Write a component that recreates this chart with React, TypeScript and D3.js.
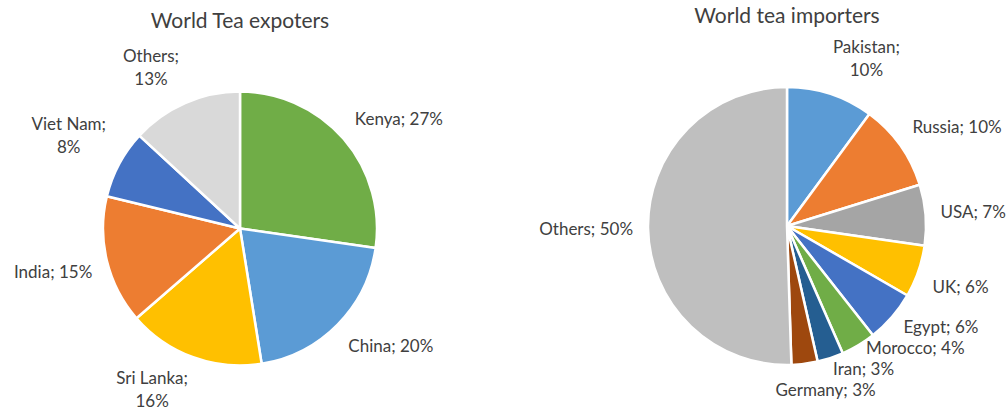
import React, { useEffect, useRef } from 'react';
import * as d3 from 'd3';

// exporters (share of world tea exports, %)
const exporterNames = ['Kenya', 'China', 'Sri Lanka', 'India', 'Viet Nam', 'Others'];
const exporterShares = [27, 20, 16, 15, 8, 13];
const exporterColors = ['#70AD47', '#5B9BD5', '#FFC000', '#ED7D31', '#4472C4', '#D9D9D9'];
const exporterWrapped = ['Sri Lanka', 'Viet Nam', 'Others'];

// importers (share of world tea imports, %)
const importerNames = ['Pakistan', 'Russia', 'USA', 'UK', 'Egypt', 'Morocco', 'Iran', 'Germany', 'Others'];
const importerShares = [10, 10, 7, 6, 6, 4, 3, 3, 50];
const importerColors = ['#5B9BD5', '#ED7D31', '#A5A5A5', '#FFC000', '#4472C4', '#70AD47', '#255E91', '#9E480E', '#BFBFBF'];
const importerWrapped = ['Pakistan'];

const WIDTH = 1008;
const HEIGHT = 412;
const FONT = 'Lato, "Open Sans", sans-serif';
const TEXT = '#404040';

interface PieSpec {
  title: string;
  names: string[];
  shares: number[];
  colors: string[];
  wrapped: string[];
  cx: number;
  cy: number;
  r: number;
  titleY: number;
}

function drawPie(svg: d3.Selection<SVGSVGElement, unknown, null, undefined>, spec: PieSpec) {
  const { names, shares, colors, wrapped, cx, cy, r } = spec;
  const g = svg.append('g').attr('transform', `translate(${cx},${cy})`);

  const arcs = d3.pie<number>().sort(null).value(d => d)(shares);
  const arc = d3.arc<d3.PieArcDatum<number>>().innerRadius(0).outerRadius(r);

  g.selectAll('path.slice')
    .data(arcs)
    .join('path')
    .attr('class', 'slice')
    .attr('d', arc)
    .attr('fill', (_, i) => colors[i])
    .attr('stroke', '#fff')
    .attr('stroke-width', 2.5)
    .attr('stroke-linejoin', 'round');

  svg.append('text')
    .attr('x', cx)
    .attr('y', spec.titleY)
    .attr('text-anchor', 'middle')
    .attr('fill', TEXT)
    .style('font-family', FONT)
    .style('font-size', '21px')
    .text(spec.title);

  // labels: outside end, box pushed away from the rim
  const lineH = 23;
  const gap = 15;
  const k = 3;
  const clamp = (v: number) => Math.max(-1, Math.min(1, v));

  const labels = arcs.map((d, i) => {
    const name = names[i];
    const pct = `${shares[i]}%`;
    const lines = wrapped.includes(name) ? [`${name};`, pct] : [`${name}; ${pct}`];
    const t = g.append('text')
      .attr('text-anchor', 'middle')
      .attr('fill', TEXT)
      .style('font-family', FONT)
      .style('font-size', '17px');
    lines.forEach((ln, j) => {
      t.append('tspan').attr('x', 0).attr('y', j * lineH).text(ln);
    });
    const bb = (t.node() as SVGTextElement).getBBox();
    const a = (d.startAngle + d.endAngle) / 2;
    const s = Math.sin(a);
    const c = Math.cos(a);
    const px = (r + gap) * s;
    const py = -(r + gap) * c;
    return {
      t, bb,
      w: bb.width,
      h: bb.height,
      x: px + (bb.width / 2) * clamp(k * s),
      y: py - (bb.height / 2) * clamp(k * c),
    };
  });

  // keep labels inside the picture
  labels.forEach(l => {
    const maxY = HEIGHT - cy - 1 - l.h / 2;
    if (l.y > maxY) l.y = maxY;
  });

  // resolve overlaps in the lower half, bottom label stays put
  const lower = labels.filter(l => l.y > 0).sort((p, q) => q.y - p.y);
  lower.forEach((l, i) => {
    for (let j = 0; j < i; j++) {
      const o = lower[j];
      const xOverlap = Math.abs(l.x - o.x) < (l.w + o.w) / 2;
      const minDy = (l.h + o.h) / 2;
      if (xOverlap && l.y > o.y - minDy) l.y = o.y - minDy;
    }
  });

  labels.forEach(l => {
    l.t.attr('transform', `translate(${l.x - (l.bb.x + l.bb.width / 2)},${l.y - (l.bb.y + l.bb.height / 2)})`);
  });
}

const App: React.FC = () => {
  const svgRef = useRef<SVGSVGElement>(null);

  useEffect(() => {
    if (!svgRef.current) return;
    const svg = d3.select(svgRef.current);
    svg.selectAll('*').remove();

    drawPie(svg, {
      title: 'World Tea expoters',
      names: exporterNames,
      shares: exporterShares,
      colors: exporterColors,
      wrapped: exporterWrapped,
      cx: 240,
      cy: 228.5,
      r: 137,
      titleY: 28,
    });

    drawPie(svg, {
      title: 'World tea importers',
      names: importerNames,
      shares: importerShares,
      colors: importerColors,
      wrapped: importerWrapped,
      cx: 787,
      cy: 226,
      r: 139,
      titleY: 23,
    });
  }, []);

  return (
    <svg
      ref={svgRef}
      width={WIDTH}
      height={HEIGHT}
      style={{ position: 'absolute', left: 0, top: 0, background: '#fff' }}
    />
  );
};

export default App;
